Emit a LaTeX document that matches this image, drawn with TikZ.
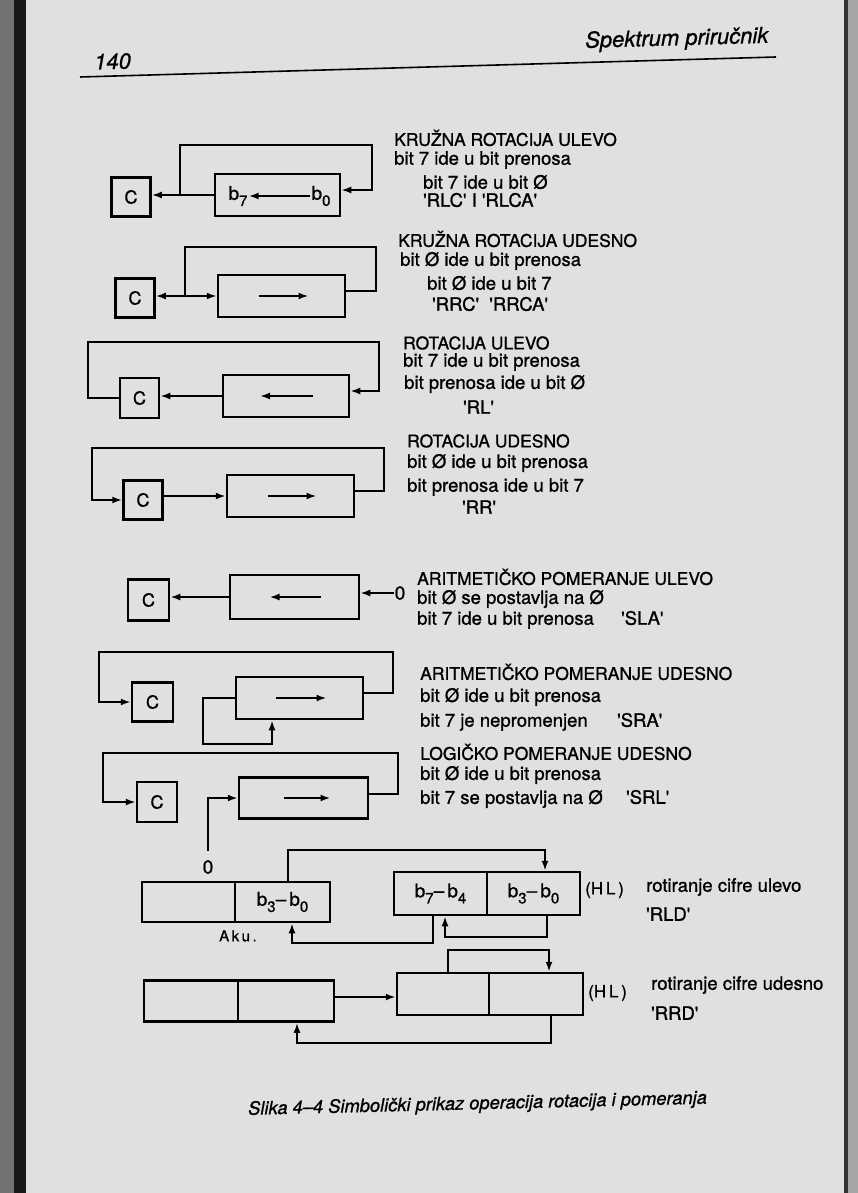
\documentclass[tikz,border=0pt]{standalone}
\usepackage{fontspec}
\setmainfont{TeX Gyre Heros}[FakeBold=1.0]
\usetikzlibrary{arrows.meta,calc}
\definecolor{paper}{RGB}{224,224,222}
\newcommand\bsub[1]{b\raisebox{-0.32em}{\fontsize{15}{15}\selectfont #1}}
\newcommand\qt[1]{\textquotesingle#1\textquotesingle}
\tikzset{
  wire/.style={line width=2.3pt},
  arr/.style={wire,-{Latex[length=10pt,width=7pt]}},
  dbl/.style={wire,{Latex[length=10pt,width=7pt]}-{Latex[length=10pt,width=7pt]}},
  cbox/.style={draw,line width=2.5pt,minimum width=39pt,minimum height=39pt,inner sep=0pt,font=\fontsize{18}{18}\selectfont},
  reg/.style={draw,line width=2.5pt,minimum height=42pt,inner sep=0pt,font=\fontsize{19}{19}\selectfont},
  hd/.style={anchor=west,inner sep=0pt,font=\fontsize{17.5}{17.5}\selectfont},
  tx/.style={anchor=west,inner sep=0pt,font=\fontsize{18.5}{18.5}\selectfont},
  lbl/.style={inner sep=1pt,font=\fontsize{19}{19}\selectfont},
  hltag/.style={anchor=west,inner sep=0pt,font=\fontsize{17}{17}\selectfont},
}
\begin{document}
\begin{tikzpicture}[x=1pt,y=-1pt]
\useasboundingbox (0,0) rectangle (858,1193);
\fill[paper] (0,0) rectangle (858,1193);
\fill[black!55] (0,0) rectangle (14,1193);
\fill[black!90] (14,0) rectangle (26,1193);
\fill[black!35] (846,0) rectangle (858,1193);
\fill[black!80] (844,0) rectangle (848,1193);

% header
\node[anchor=west,inner sep=0pt,rotate=1.6,font=\fontsize{22}{22}\selectfont\itshape] (pg) at (94,62) {140};
\node[anchor=west,inner sep=0pt,rotate=1.6,font=\fontsize{22}{22}\selectfont\itshape] (ttl) at (585,42) {Spektrum priručnik};
\draw[line width=1.6pt] (80,77) -- (776,57);

% ---------- row 1: RLC
\node[cbox] (c1) at (131,197) {C};
\node[reg,minimum width=125pt] (r1) at (277.5,195) {};
\node[lbl] (b7) at (238,196) {\bsub7};
\node[lbl] (b0) at (321,196) {\bsub0};
\draw[arr] (b0.west) -- (b7.east);
\draw[arr] (r1.west) -- (c1.east |- r1.west);
\coordinate (k1a) at (180,145);
\coordinate (k1b) at (372,145);
\draw[arr] (k1a |- r1.west) -- (k1a) -- (k1b) |- ([yshift=5pt]r1.east);
\node[hd] (t1a) at (394,138) {KRUŽNA ROTACIJA ULEVO};
\node[tx] (t1b) at (394,160) {bit 7 ide u bit prenosa};
\node[tx] (t1c) at (423,182) {bit 7 ide u bit Ø};
\node[tx] (t1d) at (423,200) {\qt{RLC} I \qt{RLCA}};

% ---------- row 2: RRC
\node[cbox] (c2) at (135,298) {C};
\node[reg,minimum width=127pt] (r2) at (281.5,296) {};
\draw[arr] ($(r2.center)+(-23,0)$) -- ++(50,0);
\draw[dbl] (c2.east |- r2.west) -- (r2.west);
\coordinate (k2a) at (185,247);
\coordinate (k2b) at (376,247);
\draw[wire] (k2a |- r2.west) -- (k2a) -- (k2b) |- ([yshift=5pt]r2.east);
\node[hd] (t2a) at (398,239) {KRUŽNA ROTACIJA UDESNO};
\node[tx] (t2b) at (400,261) {bit Ø ide u bit prenosa};
\node[tx] (t2c) at (427,283) {bit Ø ide u bit 7};
\node[tx] (t2d) at (432,304) {\qt{RRC}\ \ \qt{RRCA}};

% ---------- row 3: RL
\node[cbox,minimum height=40pt] (c3) at (139.5,398) {C};
\node[reg,minimum width=126pt] (r3) at (286,396) {};
\draw[arr] ($(r3.center)+(27,0)$) -- ++(-53,0);
\draw[arr] (r3.west) -- (c3.east |- r3.west);
\coordinate (k3a) at (88,342);
\coordinate (k3b) at (379,342);
\draw[arr] (c3.west) -| (k3a) -- (k3b) |- ([yshift=5pt]r3.east);
\node[hd] (t3a) at (403,343) {ROTACIJA ULEVO};
\node[tx] (t3b) at (403,362) {bit 7 ide u bit prenosa};
\node[tx] (t3c) at (404,384) {bit prenosa ide u bit Ø};
\node[tx] (t3d) at (463,407) {\qt{RL}};

% ---------- row 4: RR
\node[cbox] (c4) at (143,500) {C};
\node[reg,minimum width=127pt] (r4) at (290.5,496) {};
\draw[arr] ($(r4.center)+(-23,0)$) -- ++(49,0);
\draw[arr] (c4.east |- r4.west) -- (r4.west);
\coordinate (k4a) at (92,448);
\coordinate (k4b) at (384,448);
\draw[arr] ([yshift=5pt]r4.east) -| (k4b) -- (k4a) |- (c4.west);
\node[hd] (t4a) at (407,441) {ROTACIJA UDESNO};
\node[tx] (t4b) at (407,463) {bit Ø ide u bit prenosa};
\node[tx] (t4c) at (407,487) {bit prenosa ide u bit 7};
\node[tx] (t4d) at (462,507) {\qt{RR}};

% ---------- row 5: SLA
\node[cbox,minimum width=41pt,minimum height=41pt] (c5) at (148.5,600) {C};
\node[reg,minimum width=129pt,minimum height=44pt] (r5) at (294.5,597) {};
\draw[arr] ($(r5.center)+(26,0)$) -- ++(-51,0);
\draw[arr] (r5.west) -- (c5.east |- r5.west);
\node[lbl] (z5) at (400,593) {0};
\draw[arr] (z5.west) -- (r5.east |- z5.west);
\node[hd] (t5a) at (417,577) {ARITMETIČKO POMERANJE ULEVO};
\node[tx] (t5b) at (417,599) {bit Ø se postavlja na Ø};
\node[tx] (t5c) at (417,620) {bit 7 ide u bit prenosa};
\node[tx] (t5d) at (621,618) {\qt{SLA}};

% ---------- row 6: SRA
\node[cbox,minimum width=41pt] (c6) at (152.5,702) {C};
\node[reg,minimum width=127pt] (r6) at (299.5,698) {};
\draw[arr] ($(r6.center)+(-24,0)$) -- ++(51,0);
\coordinate (k6a) at (99,652);
\coordinate (k6b) at (393,652);
\draw[arr] ([yshift=5pt]r6.east) -| (k6b) -- (k6a) |- (c6.west);
\coordinate (s6a) at (203,744);
\coordinate (s6b) at (272,744);
\draw[arr] (r6.west) -| (s6a) -- (s6b) -- (s6b |- r6.south);
\node[hd] (t6a) at (420,672) {ARITMETIČKO POMERANJE UDESNO};
\node[tx] (t6b) at (420,697) {bit Ø ide u bit prenosa};
\node[tx] (t6c) at (420,722) {bit 7 je nepromenjen};
\node[tx] (t6d) at (617,720) {\qt{SRA}};

% ---------- row 7: SRL
\node[cbox,minimum width=40pt,minimum height=40pt] (c7) at (157,802) {C};
\node[reg,minimum width=129pt,minimum height=41pt] (r7) at (303.5,798) {};
\draw[arr] ($(r7.center)+(-20,0)$) -- ++(47,0);
\coordinate (k7a) at (103,753);
\coordinate (k7b) at (398,753);
\draw[arr] ([yshift=4pt]r7.east) -| (k7b) -- (k7a) |- (c7.west);
\node[lbl] (z7) at (208,867) {0};
\draw[arr] ([yshift=8pt]z7.north) |- (r7.west);
\node[hd] (t7a) at (420,752) {LOGIČKO POMERANJE UDESNO};
\node[tx] (t7b) at (420,775) {bit Ø ide u bit prenosa};
\node[tx] (t7c) at (420,799) {bit 7 se postavlja na Ø};
\node[tx] (t7d) at (626,797) {\qt{SRL}};

% ---------- RLD
\node[reg,minimum width=93pt,minimum height=40pt] (a1) at (188.5,902) {};
\node[reg,minimum width=95pt,minimum height=40pt] (a2) at (282.5,902) {\bsub3–\,\bsub0};
\node[anchor=west,inner sep=0pt,font=\fontsize{15}{15}\selectfont] (aku) at (219,936) {A\,k\,u\,.};
\node[reg,minimum width=93pt,minimum height=43pt] (h1) at (440.5,893.5) {\bsub7–\,\bsub4};
\node[reg,minimum width=93pt,minimum height=43pt] (h2) at (533.5,893.5) {\bsub3–\,\bsub0};
\node[hltag] (hl1) at (585,890) {(H\,L\,)};
\coordinate (p1) at (288,850);
\coordinate (p2) at (545,850);
\draw[arr] (p1 |- a2.north) -- (p1) -- (p2) -- (p2 |- h2.north);
\coordinate (q1) at (433,943);
\coordinate (q2) at (292,943);
\draw[arr] (q1 |- h1.south) -- (q1) -- (q2) -- (q2 |- a2.south);
\coordinate (u1) at (547,937);
\coordinate (u2) at (445,937);
\draw[arr] (u1 |- h2.south) -- (u1) -- (u2) -- (u2 |- h1.south);
\node[tx] (t8a) at (646,887) {rotiranje cifre ulevo};
\node[tx] (t8b) at (646,914) {\qt{RLD}};

% ---------- RRD
\node[reg,minimum width=94pt,minimum height=41pt] (d1) at (191,1001) {};
\node[reg,minimum width=96pt,minimum height=41pt] (d2) at (286,1001) {};
\node[reg,minimum width=92pt,minimum height=42pt] (e1) at (443,994) {};
\node[reg,minimum width=94pt,minimum height=42pt] (e2) at (536,994) {};
\node[hltag] (hl2) at (588,993) {(H\,L\,)};
\draw[arr] (d2.east |- 0,997) -- (e1.west |- 0,997);
\coordinate (v1) at (448,950);
\coordinate (v2) at (549,950);
\draw[arr] (v1 |- e1.north) -- (v1) -- (v2) -- (v2 |- e2.north);
\coordinate (w1) at (551,1043);
\coordinate (w2) at (297,1043);
\draw[arr] (w1 |- e2.south) -- (w1) -- (w2) -- (w2 |- d2.south);
\node[tx] (t9a) at (651,985) {rotiranje cifre udesno};
\node[tx] (t9b) at (651,1013) {\qt{RRD}};

% caption
\node[anchor=west,inner sep=0pt,rotate=1.4,font=\fontsize{18.3}{18.3}\selectfont\itshape] (cap) at (248,1110) {Slika 4–4 Simbolički prikaz operacija rotacija i pomeranja};
\end{tikzpicture}
\end{document}
